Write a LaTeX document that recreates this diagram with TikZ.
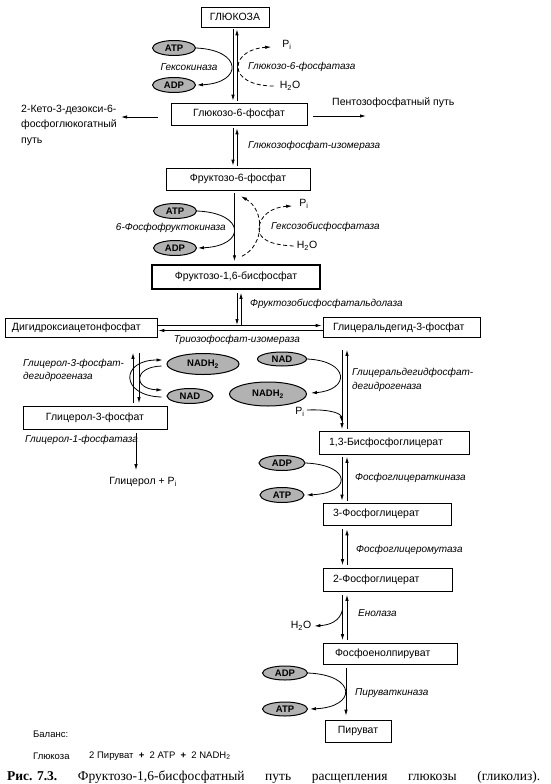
\documentclass[tikz,border=0pt]{standalone}
\usepackage{fontspec}
\setmainfont{Liberation Sans}
\newfontfamily\capfont{Liberation Serif}
\usetikzlibrary{arrows.meta,shapes.geometric,calc}
\begin{document}
\begin{tikzpicture}[x=1pt,y=-1pt,
  >={Latex[length=6pt,width=3.4pt]},
  box/.style={draw, line width=0.6pt, inner ysep=0pt, inner xsep=0pt, minimum height=22pt, font=\fontsize{10.5}{12}\selectfont},
  lbox/.style={box, align=left, inner xsep=10pt},
  enz/.style={font=\fontsize{10}{13}\selectfont\itshape, inner sep=0pt},
  lbl/.style={font=\fontsize{10.5}{13}\selectfont, inner sep=0pt},
  cof/.style={ellipse, draw, line width=1pt, fill=gray!60, inner sep=0pt, font=\fontsize{9.5}{10}\selectfont\bfseries},
  rx/.style={line width=0.8pt},
  dsh/.style={line width=0.8pt, dash pattern=on 4pt off 2.5pt},
]
\useasboundingbox (0,0) rectangle (550,784);
\fill[white] (0,0) rectangle (550,784);

% ---------- boxes
\node[box, minimum width=68pt, minimum height=20pt] (glc) at (235,17) {ГЛЮКОЗА};
\node[box, minimum width=136pt] (g6p) at (239,114) {Глюкозо-6-фосфат};
\node[box, minimum width=144pt] (f6p) at (238,179) {Фруктозо-6-фосфат};
\node[box, minimum width=168pt, minimum height=24pt, line width=1.5pt] (f16) at (236,277) {Фруктозо-1,6-бисфосфат};
\node[lbox, text width=138pt, inner xsep=7pt, minimum height=19pt] (dhap) at (81,328) {Дигидроксиацетонфосфат};
\node[lbox, text width=137pt, minimum height=20pt] (gap) at (401.5,327.5) {Глицеральдегид-3-фосфат};
\node[box, minimum width=144pt, minimum height=23pt] (g3p) at (95,418) {Глицерол-3-фосфат};
\node[lbox, text width=130pt, minimum height=23pt] (bpg) at (394,443) {1,3-Бисфосфоглицерат};
\node[lbox, text width=108pt] (pga3) at (387,514) {3-Фосфоглицерат};
\node[lbox, text width=109pt, minimum height=23pt] (pga2) at (387.5,580) {2-Фосфоглицерат};
\node[lbox, text width=110pt, inner xsep=12pt, minimum height=21pt] (pep) at (390,654) {Фосфоенолпируват};
\node[box, minimum width=66pt] (pyr) at (358,731) {Пируват};

% ---------- cofactors
\node[cof, minimum width=43pt, minimum height=15pt] (atpA) at (174,48) {ATP};
\node[cof, minimum width=43pt, minimum height=15pt] (adpA) at (174,85) {ADP};
\node[cof, minimum width=43pt, minimum height=15pt] (atpB) at (175,211) {ATP};
\node[cof, minimum width=43pt, minimum height=15pt] (adpB) at (175,248) {ADP};
\node[cof, minimum width=72pt, minimum height=21pt] (nadhA) at (203,364) {NADH\textsubscript{2}};
\node[cof, minimum width=46pt, minimum height=15pt] (nadA) at (190,396) {NAD};
\node[cof, minimum width=49pt, minimum height=14pt] (nadB) at (282,359) {NAD};
\node[cof, minimum width=77pt, minimum height=24pt] (nadhB) at (268,394) {NADH\textsubscript{2}};
\node[cof, minimum width=46pt, minimum height=15pt] (adpC) at (282,463) {ADP};
\node[cof, minimum width=44pt, minimum height=15pt] (atpC) at (282,495) {ATP};
\node[cof, minimum width=45pt, minimum height=14pt] (adpD) at (285,673) {ADP};
\node[cof, minimum width=45pt, minimum height=14pt] (atpD) at (285,709) {ATP};

% ---------- labels
\node[enz] (hk) at (189,67) {Гексокиназа};
\node[enz, anchor=west] (g6pase) at (248,67) {Глюкозо-6-фосфатаза};
\node[lbl] (piA) at (287,45) {P\textsubscript{i}};
\node[lbl] (h2oA) at (290,86) {H\textsubscript{2}O};
\node[lbl, anchor=west, align=left, font=\fontsize{10.5}{15.5}\selectfont] (keto) at (21,125) {2-Кето-3-дезокси-6-\\фосфоглюкогатный\\путь};
\node[lbl, anchor=west] (ppp) at (332,103) {Пентозофосфатный путь};
\node[enz, anchor=west] (gpi) at (248,146) {Глюкозофосфат-изомераза};
\node[enz, anchor=east] (pfk) at (226,228) {6-Фосфофруктокиназа};
\node[enz, anchor=west] (fbpase) at (271,227) {Гексозобисфосфатаза};
\node[lbl] (piB) at (304,204) {P\textsubscript{i}};
\node[lbl] (h2oB) at (307,246) {H\textsubscript{2}O};
\node[enz, anchor=west] (ald) at (250,304) {Фруктозобисфосфатальдолаза};
\node[enz] (tpi) at (237,340) {Триозофосфат-изомераза};
\node[enz, anchor=west, align=left] (g3pdh) at (23,370.5) {Глицерол-3-фосфат-\\дегидрогеназа};
\node[enz, anchor=west, align=left, font=\fontsize{10}{14}\selectfont\itshape] (gapdh) at (352,380) {Глицеральдегидфосфат-\\дегидрогеназа};
\node[lbl] (piC) at (300,412) {P\textsubscript{i}};
\node[enz, anchor=west] (g1pase) at (25,440) {Глицерол-1-фосфатаза};
\node[lbl] (gly) at (143,482) {Глицерол + P\textsubscript{i}};
\node[enz, anchor=west] (pgk) at (355,478) {Фосфоглицераткиназа};
\node[enz, anchor=west] (pgm) at (356,550) {Фосфоглицеромутаза};
\node[enz, anchor=west] (eno) at (358,613) {Енолаза};
\node[lbl] (h2oC) at (301,626) {H\textsubscript{2}O};
\node[enz, anchor=west] (pk) at (355,693) {Пируваткиназа};
\node[lbl, anchor=west, font=\fontsize{9.5}{11}\selectfont] (bal) at (33,734) {Баланс:};
\node[lbl, anchor=west, font=\fontsize{9.5}{11}\selectfont] (glcb) at (33,756) {Глюкоза};
\node[lbl, anchor=west, font=\fontsize{9.5}{11}\selectfont] (prod) at (89,756) {2 Пируват \ \textbf{+}\ \ 2 ATP \ \textbf{+}\ \ 2 NADH\textsubscript{2}};
\node[inner sep=0pt, anchor=west, font=\capfont\fontsize{13.5}{15}\selectfont] (cap) at (7,777) {\makebox[533pt][s]{\mbox{\textbf{Рис. 7.3.}} Фруктозо-1,6-бисфосфатный путь расщепления глюкозы (гликолиз).}};

% ---------- coordinates
\coordinate (axA) at (235,0);
\coordinate (rowA) at (0,325.5);
\coordinate (rowB) at (0,330.5);
\coordinate (axG) at (136,0);
\coordinate (axR) at (344.5,0);
\coordinate (ketoEnd) at (121,117);
\coordinate (pppEnd) at (366,116);

% ---------- main column
\draw[rx,->] ($(axA|-glc.south)+(-2,2)$) -- ($(axA|-g6p.north)+(-2,-2)$);
\draw[rx,->] ($(axA|-g6p.north)+(2,-2)$) -- ($(axA|-glc.south)+(2,2)$);
\draw[rx,->] ($(axA|-g6p.south)+(-2,3)$) -- ($(axA|-f6p.north)+(-2,-2)$);
\draw[rx,->] ($(axA|-f6p.north)+(2,-2)$) -- ($(axA|-g6p.south)+(2,3)$);
\draw[rx,->] ($(axA|-f6p.south)+(-0.5,3)$) -- ($(axA|-f16.north)+(-0.5,-3)$);
\draw[rx,->] ($(g6p.west)+(-13,3)$) -- (ketoEnd);
\draw[rx,->] ($(g6p.east)+(6,2)$) -- (pppEnd);

% hexokinase / glucose-6-phosphatase
\draw[rx,->] (atpA.east) .. controls (243,50) and (243,83) .. ($(adpA.east)+(1,0)$);
\draw[dsh,->] ($(h2oA.west)+(-6,0)$) .. controls (252,86) and (238,78) .. (238,67) .. controls (238,55) and (252,48) .. ($(piA.west)+(-11,2)$);

% PFK / FBPase
\draw[rx,->] (atpB.east) .. controls (246,213) and (246,246) .. ($(adpB.east)+(1,0)$);
\draw[dsh,->] ($(f16.north)+(6,-8)$) .. controls (265,245) and (265,210) .. ($(f6p.south)+(3,6)$);
\draw[dsh,->] ($(h2oB.west)+(-3,0)$) .. controls (272,245) and (259,240) .. (259,229) .. controls (259,216) and (272,207) .. ($(piB.west)+(-7,2)$);

% aldolase / TPI
\draw[rx,->] ($(f16.south)+(1,3)$) -- ($(f16.south|-rowA)+(1,-0.5)$);
\draw[rx,->] ($(f16.south|-rowA)+(5,0)$) -- ($(f16.south)+(5,3)$);
\draw[rx,->] (dhap.east|-rowA) -- ($(gap.west|-rowA)+(-1,0)$);
\draw[rx,->] (gap.west|-rowB) -- ($(dhap.east|-rowB)+(1,0)$);

% glycerol-3-phosphate dehydrogenase
\draw[rx,->] ($(axG|-g3p.north)+(-3,-3)$) -- ($(axG|-dhap.south)+(-3,15)$);
\draw[rx,->] ($(axG|-dhap.south)+(3,15)$) -- ($(axG|-g3p.north)+(3,-3)$);
\draw[rx,->] ($(nadA.west)+(-5,1)$) .. controls (120,396) and (120,360) .. ($(nadhA.west)+(-4,-4)$);
\draw[rx,->] ($(nadhA.west)+(-5,2)$) .. controls (133,367) and (133,389) .. ($(nadA.west)+(-4,-6)$);
\draw[rx,->] ($(axG|-g3p.south)+(0,3)$) -- ($(axG|-gly.north)+(0,-7)$);

% GAPDH
\draw[rx,->] ($(axR|-gap.south)+(-2.5,12)$) -- ($(axR|-bpg.north)+(-2.5,-2)$);
\draw[rx,->] ($(axR|-bpg.north)+(2.5,-2)$) -- ($(axR|-gap.south)+(2.5,12)$);
\draw[rx,->] (nadB.east) .. controls (350,361) and (350,390) .. ($(nadhB.east)+(4,-1)$);
\draw[rx,->] ($(piC.east)+(2,-2)$) .. controls (332,409) and (341,414) .. ($(axR|-bpg.north)+(-2.5,-9)$);

% PGK
\draw[rx,->] ($(axR|-bpg.south)+(-2.5,2)$) -- ($(axR|-pga3.north)+(-2.5,-2)$);
\draw[rx,->] ($(axR|-pga3.north)+(2.5,-2)$) -- ($(axR|-bpg.south)+(2.5,2)$);
\draw[rx,->] (adpC.east) .. controls (352,465) and (352,493) .. ($(atpC.east)+(2,0)$);

% PGM
\draw[rx,->] ($(axR|-pga3.south)+(-2,4)$) -- ($(axR|-pga2.north)+(-2,-3)$);
\draw[rx,->] ($(axR|-pga2.north)+(2.5,-3)$) -- ($(axR|-pga3.south)+(2.5,4)$);

% enolase
\draw[rx,->] ($(axR|-pga2.south)+(-2,3)$) -- ($(axR|-pep.north)+(-2,-3)$);
\draw[rx,->] ($(axR|-pep.north)+(2.5,-3)$) -- ($(axR|-pga2.south)+(2.5,3)$);
\draw[rx,->] ($(axR|-pga2.south)+(-2,18)$) .. controls (340,621) and (330,625) .. ($(h2oC.east)+(3,0)$);

% pyruvate kinase
\draw[rx,->] ($(axR|-pep.south)+(1.5,3)$) -- ($(axR|-pyr.north)+(1.5,-4)$);
\draw[rx,->] (adpD.east) .. controls (357,675) and (357,707) .. ($(atpD.east)+(2,0)$);
\end{tikzpicture}
\end{document}
